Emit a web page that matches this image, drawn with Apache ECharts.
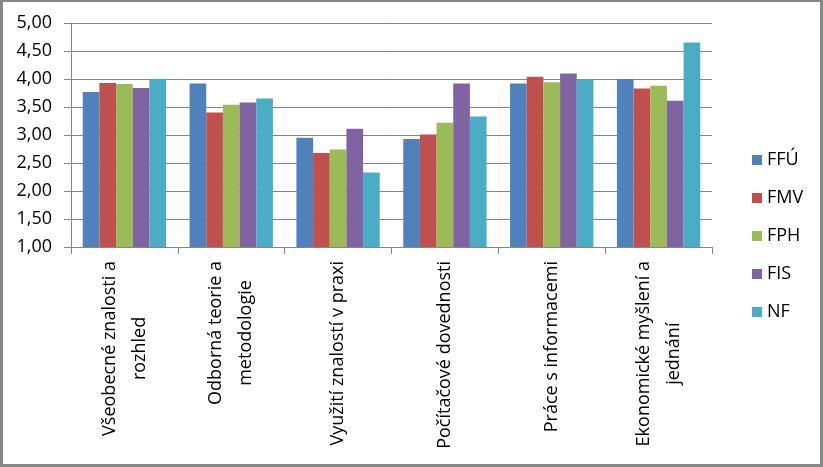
<!DOCTYPE html>
<html>
<head>
<meta charset="utf-8">
<script src="https://cdn.jsdelivr.net/npm/echarts@6/dist/echarts.min.js"></script>
<style>
  html, body { margin: 0; padding: 0; background: #fff; }
  #frame {
    width: 823px;
    height: 467px;
    box-sizing: border-box;
    border: 3px solid #878787;
    border-top-width: 2px;
  }
  #main { width: 817px; height: 462px; }
</style>
</head>
<body>
<div id="frame"><div id="main"></div></div>
<script>
// kategorie (osa x)
var categories = [
  "Všeobecné znalosti a\nrozhled",
  "Odborná teorie a\nmetodologie",
  "Využití znalostí v praxi",
  "Počítačové dovednosti",
  "Práce s informacemi",
  "Ekonomické myšlení a\njednání"
];
var seriesNames = ["FFÚ", "FMV", "FPH", "FIS", "NF"];
// hodnoty
var ffu = [3.77, 3.92, 2.95, 2.93, 3.92, 4.00];
var fmv = [3.93, 3.40, 2.68, 3.01, 4.04, 3.83];
var fph = [3.91, 3.54, 2.74, 3.22, 3.94, 3.88];
var fis = [3.84, 3.58, 3.11, 3.92, 4.10, 3.61];
var nf  = [4.00, 3.65, 2.33, 3.33, 3.99, 4.65];
var yTicks = { min: 1, max: 5, step: 0.5 };

var kcolor = ["#4F81BD", "#C0504D", "#9BBB59", "#8064A2", "#4BACC6"];
var font = "'Open Sans', 'Liberation Sans', sans-serif";

var myChart = echarts.init(document.getElementById("main"));
var allData = [ffu, fmv, fph, fis, nf];
var seriesData = [];
for (var k in allData) {
  seriesData.push({
    name: seriesNames[k],
    type: "bar",
    barGap: "0%",
    barCategoryGap: "22%",
    itemStyle: { color: kcolor[k] },
    data: allData[k]
  });
}

var option = {
  animation: false,
  color: kcolor,
  textStyle: { fontFamily: font },
  grid: {
    left: 68,
    right: 108,
    top: 21,
    bottom: 217,
    containLabel: false
  },
  legend: {
    orient: "vertical",
    left: 744,
    top: 144,
    itemWidth: 10,
    itemHeight: 10,
    itemGap: 20,
    icon: "rect",
    data: seriesNames,
    textStyle: { fontSize: 18, color: "#000", fontFamily: font }
  },
  xAxis: {
    type: "category",
    data: categories,
    axisLine: { lineStyle: { color: "#868686", width: 1 } },
    axisTick: { show: true, length: 7, lineStyle: { color: "#868686" } },
    axisLabel: {
      rotate: 90,
      margin: 14,
      interval: 0,
      color: "#000",
      fontSize: 18,
      lineHeight: 30,
      formatter: function (value) {
        return value.split("\n").map(function (s) {
          return "{c|" + s + "}";
        }).join("\n");
      },
      rich: {
        c: { align: "center", fontSize: 18, lineHeight: 30, color: "#000", fontFamily: font }
      }
    }
  },
  yAxis: {
    type: "value",
    min: yTicks.min,
    max: yTicks.max,
    interval: yTicks.step,
    axisLine: { show: true, lineStyle: { color: "#868686", width: 1 } },
    axisTick: { show: true, length: 7, inside: false, lineStyle: { color: "#868686" } },
    splitLine: { show: true, lineStyle: { color: "#868686", width: 1 } },
    axisLabel: {
      margin: 19,
      color: "#000",
      fontSize: 18,
      formatter: function (value) {
        return value.toFixed(2).replace(".", ",");
      }
    }
  },
  series: seriesData
};
myChart.setOption(option);
</script>
</body>
</html>
